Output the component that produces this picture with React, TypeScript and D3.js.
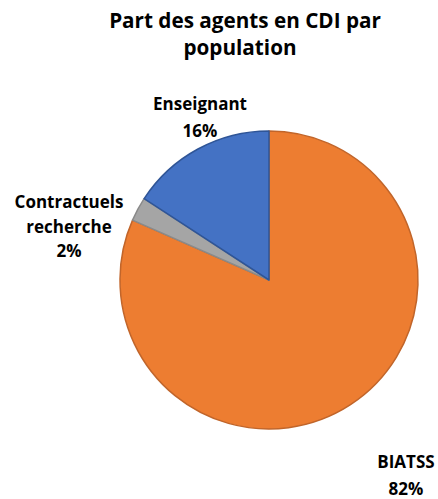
import React from "react";
import * as d3 from "d3";

const categories = ["BIATSS", "Contractuels recherche", "Enseignant"];
const values = [815, 26, 158];
const labels = [["BIATSS", "82%"], ["Contractuels", "recherche", "2%"], ["Enseignant", "16%"]];
const fills = ["#ED7D31", "#A5A5A5", "#4472C4"];
const strokes = ["#C1652A", "#8A8A8A", "#2F5597"];
const labelPos = [
  { x: 406, y: 468 },
  { x: 69, y: 208 },
  { x: 200, y: 110 },
];

export default function App() {
  const W = 438, H = 499;
  const cx = 269, cy = 280, r = 149;
  const pie = d3.pie<number>().sort(null).value((d) => d);
  const arcs = pie(values);
  const arc = d3.arc<d3.PieArcDatum<number>>().innerRadius(0).outerRadius(r);
  const font = "'Open Sans', 'DejaVu Sans', sans-serif";
  return (
    <svg width={W} height={H} style={{ position: "absolute", left: 0, top: 0, background: "#fff" }}>
      <text x={245} y={28} textAnchor="middle" fontFamily={font} fontWeight="bold" fontSize={20.7} fill="#000">
        Part des agents en CDI par
      </text>
      <text x={240} y={55} textAnchor="middle" fontFamily={font} fontWeight="bold" fontSize={20.7} fill="#000">
        population
      </text>
      <g transform={`translate(${cx},${cy})`}>
        {arcs.map((a, i) => (
          <path key={categories[i]} d={arc(a) || ""} fill={fills[i]} stroke={strokes[i]} strokeWidth={1.5} strokeLinejoin="round" />
        ))}
      </g>
      {labels.map((lines, i) => (
        <text key={categories[i]} textAnchor="middle" fontFamily={font} fontWeight="bold" fontSize={17} fill="#000">
          {lines.map((l, j) => (
            <tspan key={j} x={labelPos[i].x} y={labelPos[i].y + j * (i === 1 ? 24.5 : 27)}>
              {l}
            </tspan>
          ))}
        </text>
      ))}
    </svg>
  );
}
